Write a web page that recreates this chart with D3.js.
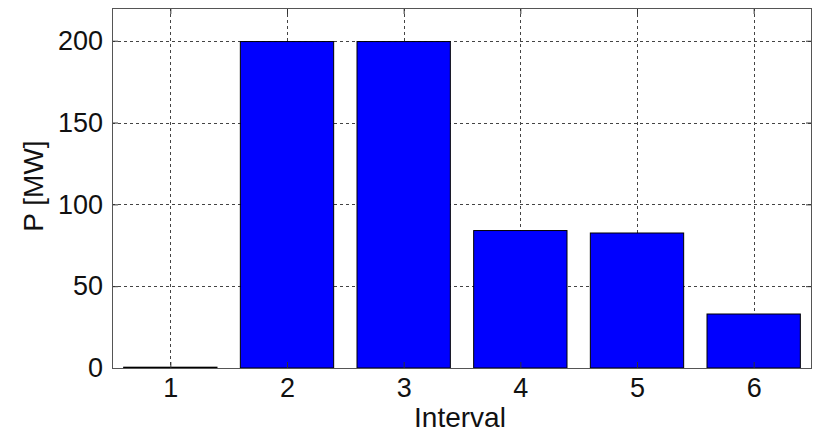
<!DOCTYPE html>
<html><head><meta charset="utf-8">
<script src="https://cdn.jsdelivr.net/npm/d3@7"></script>
<style>body{margin:0;background:#fff}svg{display:block}text{font-family:"Liberation Sans",Arial,sans-serif}</style>
</head><body>
<svg id="c" width="819" height="433"></svg>
<script>
const categories = [1, 2, 3, 4, 5, 6];
const values = [0.5, 199.5, 199.5, 84, 82.5, 33];
const yTicks = [0, 50, 100, 150, 200];
const xLabel = "Interval";
const yLabel = "P [MW]";

const svg = d3.select("#c");
const m = {l: 112, r: 812, t: 8, b: 368};
const x = d3.scaleLinear().domain([0.5, 6.5]).range([m.l, m.r]);
const y = d3.scaleLinear().domain([0, 220]).range([m.b, m.t]);
const bw = (x(1) - x(0)) * 0.8;
const fs = 27;

svg.append("rect").attr("x", m.l).attr("y", m.t).attr("width", m.r - m.l).attr("height", m.b - m.t).attr("fill", "#fff");

const grid = svg.append("g").attr("stroke", "#444").attr("stroke-width", 1).attr("stroke-dasharray", "3,3");
grid.selectAll("line.v").data(categories).join("line")
  .attr("x1", d => Math.round(x(d)) + 0.5).attr("x2", d => Math.round(x(d)) + 0.5)
  .attr("y1", m.t).attr("y2", m.b);
grid.selectAll("line.h").data(yTicks.filter(d => d > 0)).join("line")
  .attr("y1", d => Math.round(y(d)) + 0.5).attr("y2", d => Math.round(y(d)) + 0.5)
  .attr("x1", m.l).attr("x2", m.r);

svg.append("g").selectAll("rect").data(categories).join("rect")
  .attr("x", (d) => x(d) - bw / 2)
  .attr("width", bw)
  .attr("y", (d, i) => y(values[i]))
  .attr("height", (d, i) => y(0) - y(values[i]))
  .attr("fill", "#0000ff").attr("stroke", "#000").attr("stroke-width", 1);

const xa = svg.append("g").attr("transform", `translate(0,${m.b})`)
  .call(d3.axisBottom(x).tickValues(categories).tickSize(-6).tickPadding(10).tickFormat(d3.format("d")));
const xt = svg.append("g").attr("transform", `translate(0,${m.t})`)
  .call(d3.axisTop(x).tickValues(categories).tickSize(-6).tickFormat(""));
const ya = svg.append("g").attr("transform", `translate(${m.l},0)`)
  .call(d3.axisLeft(y).tickValues(yTicks).tickSize(-6).tickPadding(9).tickFormat(d3.format("d")));
const yr = svg.append("g").attr("transform", `translate(${m.r},0)`)
  .call(d3.axisRight(y).tickValues(yTicks).tickSize(-6).tickFormat(""));
[xa, xt, ya, yr].forEach(g => {
  g.select(".domain").remove();
  g.selectAll("line").attr("stroke", "#333");
  g.selectAll("text").attr("font-size", fs).attr("fill", "#111");
});
svg.append("rect").attr("x", m.l + 0.5).attr("y", m.t + 0.5).attr("width", m.r - m.l - 1).attr("height", m.b - m.t)
  .attr("fill", "none").attr("stroke", "#555").attr("stroke-width", 1);

svg.append("text").attr("x", 460).attr("y", 427).attr("text-anchor", "middle")
  .attr("font-size", 28).attr("fill", "#111").text(xLabel);
svg.append("text").attr("transform", `translate(43,186) rotate(-90)`).attr("text-anchor", "middle")
  .attr("font-size", 28).attr("fill", "#111").text(yLabel);
</script>
</body></html>
